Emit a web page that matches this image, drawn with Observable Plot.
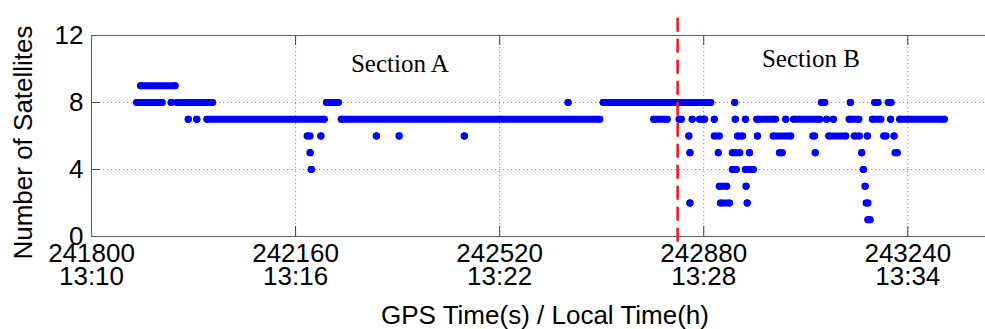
<!DOCTYPE html>
<html><head><meta charset="utf-8">
<script src="https://cdn.jsdelivr.net/npm/d3@7"></script>
<script src="https://cdn.jsdelivr.net/npm/@observablehq/plot@0.6"></script>
<style>html,body{margin:0;padding:0;background:#fff;overflow:hidden;width:985px;height:329px}
#chart svg{max-width:none !important;height:329px !important;display:block}</style>
</head><body><div id="chart"></div>
<script>
// Axis ticks
const xTickValues = [241800, 242160, 242520, 242880, 243240];
const xTickTimes = ["13:10", "13:16", "13:22", "13:28", "13:34"];
const yTickValues = [0, 4, 8, 12];
const yGridValues = [4, 8];

// Observed satellite counts, as runs of consecutive epochs (start / end GPS second)
const runValue = [
  9,
  8, 8, 8, 8, 8, 8, 8, 8, 8, 8, 8,
  7, 7, 7, 7, 7, 7, 7, 7, 7, 7, 7, 7, 7, 7, 7, 7, 7, 7, 7, 7,
  6, 6, 6, 6, 6, 6, 6, 6, 6, 6, 6, 6, 6, 6, 6, 6,
  5, 5, 5, 5, 5, 5, 5, 5, 5,
  4, 4, 4, 4, 4,
  3, 3, 3,
  2, 2, 2, 2,
  1
];
const runStart = [
  241887,
  241880, 241941, 241951, 242215, 242641, 242703, 242935, 243088, 243139, 243182, 243206,
  241971, 241986, 242004, 242241, 242792, 242837, 242860, 242873, 242899, 242936, 242954, 242974, 243025, 243039, 243097, 243109, 243137, 243178, 243210, 243226,
  242181, 242205, 242303, 242343, 242458, 242854, 242899, 242940, 242975, 243003, 243073, 243101, 243146, 243169, 243198, 243216,
  242186, 242856, 242906, 242931, 242961, 243014, 243077, 243159, 243218,
  242188, 242931, 242954, 242962, 243162,
  242908, 242955, 243165,
  242856, 242910, 242957, 243167,
  243170
];
const runEnd = [
  241948,
  241925, 241941, 242014, 242236, 242641, 242893, 242935, 243094, 243139, 243188, 243211,
  241971, 241986, 242211, 242697, 242816, 242841, 242860, 242882, 242899, 242936, 242954, 243007, 243025, 243085, 243097, 243109, 243154, 243193, 243210, 243305,
  242186, 242205, 242303, 242343, 242458, 242854, 242908, 242949, 242975, 243034, 243076, 243131, 243155, 243169, 243202, 243216,
  242186, 242856, 242906, 242944, 242961, 243019, 243077, 243159, 243222,
  242188, 242938, 242954, 242968, 243162,
  242921, 242955, 243165,
  242856, 242926, 242957, 243170,
  243174
];

// Annotations
const sectionNames = ["Section A", "Section B"];
const sectionTime = [242344, 243069];
const sectionLevel = [9.8, 10.1];
const boundaryTime = 242834;

const runs = runValue.map((v, i) => ({v, t0: runStart[i], t1: runEnd[i]}));
const ends = runs.flatMap(r => [{t: r.t0, v: r.v}, {t: r.t1, v: r.v}]);

const blue = "#0000ff";
const chart = Plot.plot({
  width: 998,
  height: 329,
  marginLeft: 91,
  marginRight: 0,
  marginTop: 35,
  marginBottom: 93,
  style: {fontFamily: "Liberation Sans, Arial, sans-serif", fontSize: "26px", color: "#000", background: "#fff", overflow: "visible", maxWidth: "none"},
  x: {domain: [241800, 243400], axis: null},
  y: {domain: [0, 12], axis: null},
  marks: [
    Plot.ruleX(xTickValues, {x: d => d, stroke: "#8a8a8a", strokeWidth: 1, strokeDasharray: "1.2,2.8", strokeOpacity: 1}),
    Plot.ruleY(yGridValues, {y: d => d, stroke: "#8a8a8a", strokeWidth: 1, strokeDasharray: "1.2,2.8", strokeOpacity: 1}),
    Plot.ruleX(xTickValues, {x: d => d, y1: 0, y2: 0.6, stroke: "#444"}),
    Plot.ruleX(xTickValues, {x: d => d, y1: 11.4, y2: 12, stroke: "#444"}),
    Plot.ruleY(yTickValues, {y: d => d, x1: 241800, x2: 241816, stroke: "#444"}),
    Plot.frame({stroke: "#5a5a5a", strokeWidth: 1}),
    Plot.ruleY(runs, {y: "v", x1: "t0", x2: "t1", stroke: blue, strokeWidth: 6.8, strokeLinecap: "round"}),
    Plot.dot(ends, {x: "t", y: "v", r: 3.4, fill: blue, stroke: "none"}),
    Plot.ruleX([boundaryTime], {x: d => d, y1: -0.35, y2: 13.3, stroke: "#ee1c25", strokeWidth: 2.6, strokeDasharray: "14,7"}),
    Plot.text(sectionNames, {x: (d, i) => sectionTime[i], y: (d, i) => sectionLevel[i], text: d => d, fontFamily: "Liberation Serif, Times New Roman, serif", fontSize: 25, lineAnchor: "bottom"}),
    Plot.text(yTickValues, {y: d => d, text: d => String(d), frameAnchor: "left", textAnchor: "end", dx: -8, fontSize: 26}),
    Plot.text(xTickValues, {x: d => d, text: (d, i) => `${d}\n${xTickTimes[i]}`, frameAnchor: "bottom", lineAnchor: "top", lineHeight: 0.885, dy: 9, fontSize: 26}),
    Plot.text(["GPS Time(s) / Local Time(h)"], {frameAnchor: "bottom", lineAnchor: "bottom", dy: 87, fontSize: 26}),
    Plot.text(["Number of Satellites"], {frameAnchor: "left", textAnchor: "middle", rotate: -90, dx: -68, dy: 6.5, fontSize: 26})
  ]
});
document.getElementById("chart").appendChild(chart);
</script>
</body></html>
